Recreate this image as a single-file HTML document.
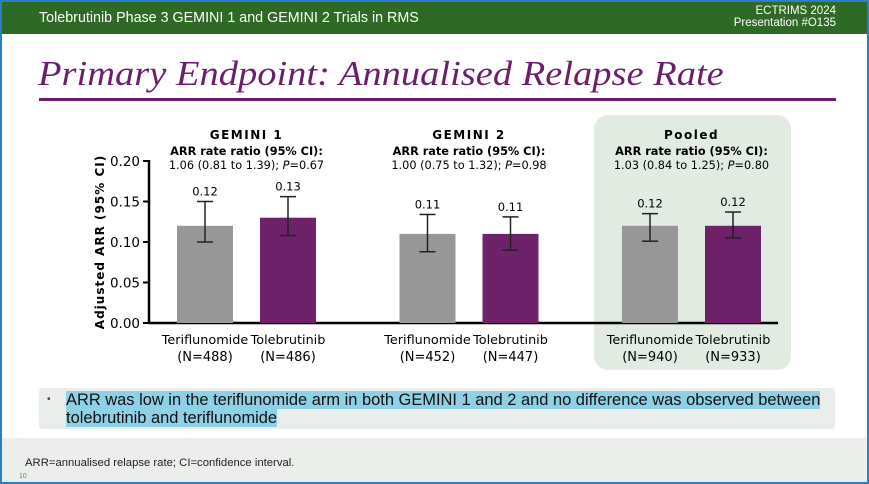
<!DOCTYPE html>
<html><head><meta charset="utf-8"><style>
body{margin:0;width:869px;height:484px;overflow:hidden;font-family:"Liberation Sans",sans-serif;background:#fff}
#frame{position:absolute;left:0;top:0;width:865px;height:480px;border:2px solid #2a7fc9;background:#fff;overflow:hidden}
#hdr{position:absolute;left:0;top:0;width:865px;height:32px;background:#2e6a25;color:#fff}
#title{position:absolute;left:36px;top:52px;font-family:"Liberation Serif",serif;font-style:italic;font-size:35px;color:#6b1f6b;transform:scaleX(1.10);transform-origin:0 0;white-space:nowrap}
#rule{position:absolute;left:37px;top:96px;width:797px;height:3px;background:#6b1f6b}
#bullet{position:absolute;left:37px;top:386px;width:796px;height:41px;background:#eaeeea;border-radius:3px}
.hl{background:#8ed0e6}
#foot{position:absolute;left:0;top:436px;width:865px;height:44px;background:#ebeeeb}
svg text{font-family:"DejaVu Sans","Liberation Sans",sans-serif}
</style></head><body>
<div id="frame">
<div id="hdr">
<div style="position:absolute;left:37px;top:8px;font-size:14.3px">Tolebrutinib Phase 3 GEMINI 1 and GEMINI 2 Trials in RMS</div>
<div style="position:absolute;right:31px;top:3px;font-size:11.5px;text-align:right;line-height:12px">ECTRIMS 2024<br>Presentation #O135</div>
</div>
<div id="title">Primary Endpoint: Annualised Relapse Rate</div>
<div id="rule"></div>
<svg id="chart" width="865" height="380" style="position:absolute;left:0;top:0"></svg>
<div id="bullet">
<span style="position:absolute;left:8px;top:6px;color:#6b1f6b;font-size:10px">•</span>
<div style="position:absolute;left:27px;top:4px;font-size:16.45px;line-height:17.5px;color:#111;width:790px"><span class="hl">ARR was low in the teriflunomide arm in both GEMINI 1 and 2 and no difference was observed between tolebrutinib and teriflunomide</span></div>
</div>
<div id="foot">
<div style="position:absolute;left:23px;top:19px;font-size:11.3px;color:#222">ARR=annualised relapse rate; CI=confidence interval.</div>
<div style="position:absolute;left:17px;top:35px;font-size:7px;color:#4a9a3a">10</div>
</div>
</div>
<script>
const groups=["GEMINI 1","GEMINI 2","Pooled"];
const ratioText=["1.06 (0.81 to 1.39); ","1.00 (0.75 to 1.32); ","1.03 (0.84 to 1.25); "];
const pText=["0.67","0.98","0.80"];
const arms=["Teriflunomide","Tolebrutinib"];
const ns=[["488","486"],["452","447"],["940","933"]];
const values=[[0.12,0.13],[0.11,0.11],[0.12,0.12]];
const lows=[[0.100,0.108],[0.088,0.090],[0.101,0.105]];
const highs=[[0.150,0.156],[0.134,0.131],[0.135,0.137]];
const ticks=[0,0.05,0.10,0.15,0.20];
const tickLabels=["0.00","0.05","0.10","0.15","0.20"];
const svg=document.getElementById('chart');const NS='http://www.w3.org/2000/svg';
const y0=321,yTop=159;const y=v=>y0-(v/0.2)*(y0-yTop);
const gx=i=>175+i*222.5; const bw=56;
function mk(t,a,p){const e=document.createElementNS(NS,t);for(const k in a)e.setAttribute(k,a[k]);(p||svg).appendChild(e);return e;}
const pool=mk('rect',{x:592,y:113,width:197,height:255,rx:14,fill:'#e2ebe1'});


mk('line',{x1:147,y1:y(0.2)-1,x2:147,y2:y0+1,stroke:'#000','stroke-width':2.5});
mk('line',{x1:146,y1:y0,x2:776,y2:y0,stroke:'#000','stroke-width':2.5});
ticks.forEach((t,i)=>{mk('line',{x1:141,y1:y(t),x2:147,y2:y(t),stroke:'#000','stroke-width':2});
const tl=mk('text',{x:138,y:y(t)+5,'text-anchor':'end','font-size':13.5});tl.textContent=tickLabels[i];

});
const yt=mk('text',{transform:'translate(102,240) rotate(-90)','text-anchor':'middle','font-size':12,'font-weight':'bold','letter-spacing':'1'});yt.textContent='Adjusted ARR (95% CI)';


const cols=['#979797','#6d226a'];
groups.forEach((g,gi)=>{const cx=gx(gi)+69.5;
const h=mk('text',{x:cx,y:137,'text-anchor':'middle','font-size':12,'font-weight':'bold','letter-spacing':'1.5'});h.textContent=g;


const r=mk('text',{x:cx,y:153,'text-anchor':'middle','font-size':11.3,'font-weight':'bold'});r.textContent='ARR rate ratio (95% CI):';


const v=mk('text',{x:cx,y:167,'text-anchor':'middle','font-size':11.3});v.textContent=ratioText[gi];
const it=mk('tspan',{'font-style':'italic'},v);it.textContent='P';const pt=mk('tspan',{},v);pt.textContent='='+pText[gi];


arms.forEach((a,ai)=>{const x=gx(gi)+ai*83;const val=values[gi][ai];
const b=mk('rect',{x:x,y:y(val),width:bw,height:y0-y(val),fill:cols[ai]});


const m=x+bw/2;
mk('line',{x1:m,y1:y(highs[gi][ai]),x2:m,y2:y(lows[gi][ai]),stroke:'#222','stroke-width':1.5});
mk('line',{x1:m-8,y1:y(highs[gi][ai]),x2:m+8,y2:y(highs[gi][ai]),stroke:'#222','stroke-width':1.5});
mk('line',{x1:m-8,y1:y(lows[gi][ai]),x2:m+8,y2:y(lows[gi][ai]),stroke:'#222','stroke-width':1.5});
const vl=mk('text',{x:m,y:y(highs[gi][ai])-6,'text-anchor':'middle','font-size':11.5});vl.textContent=val.toFixed(2);


const al=mk('text',{x:m,y:342,'text-anchor':'middle','font-size':12.8});al.textContent=a;


const nl=mk('text',{x:m,y:359,'text-anchor':'middle','font-size':13});nl.textContent='(N='+ns[gi][ai]+')';


});});
</script>
</body></html>
